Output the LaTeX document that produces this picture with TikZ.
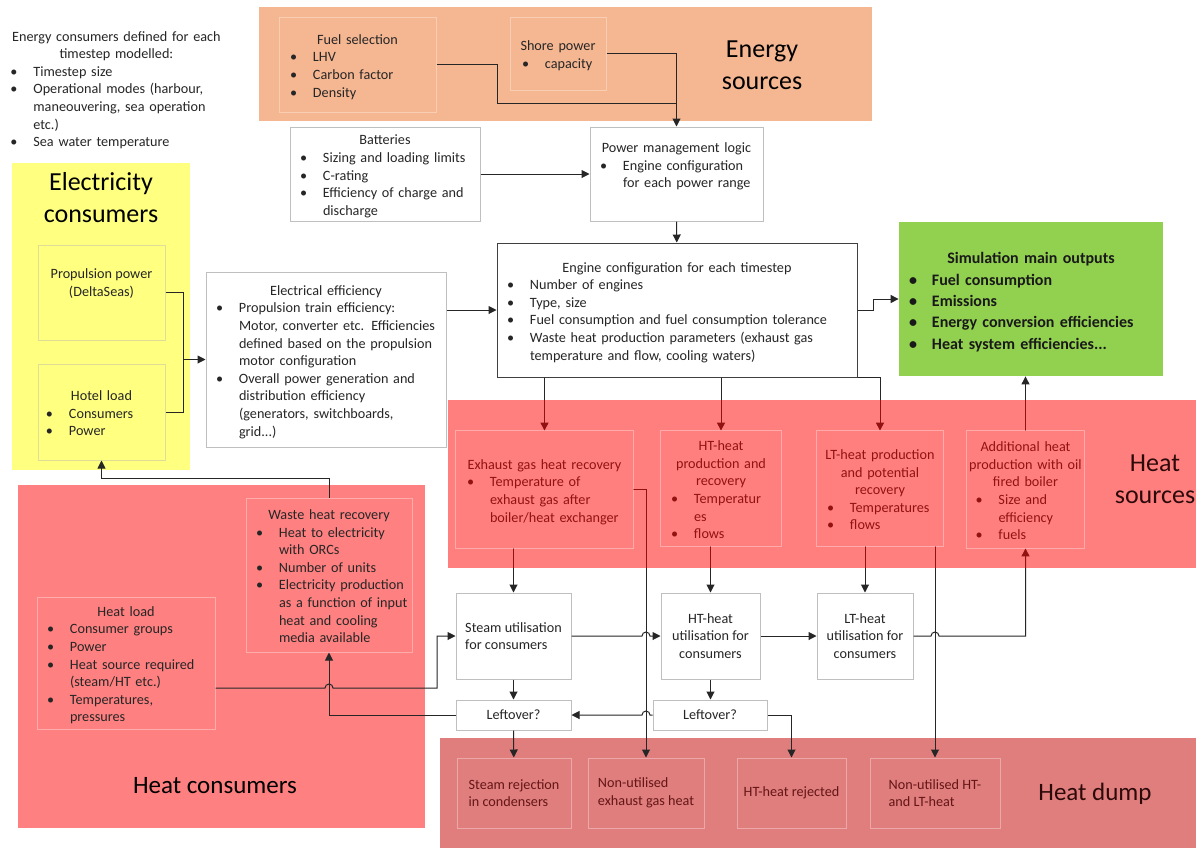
\documentclass[tikz,border=0pt]{standalone}
\usepackage{fontspec}
\setmainfont{Carlito}
\usepackage{xcolor}
\usepackage{tikz}
\usetikzlibrary{arrows.meta,positioning,calc,backgrounds}

\definecolor{orband}{RGB}{245,182,146}
\definecolor{orline}{RGB}{250,206,178}
\definecolor{yeband}{RGB}{255,255,128}
\definecolor{yeline}{RGB}{222,222,150}
\definecolor{grband}{RGB}{146,208,80}
\definecolor{rdband}{RGB}{255,128,128}
\definecolor{rdline}{RGB}{255,172,172}
\definecolor{dmband}{RGB}{224,125,125}
\definecolor{dmline}{RGB}{236,168,168}
\definecolor{dmtext}{RGB}{100,22,22}
\definecolor{boxline}{RGB}{191,191,191}
\definecolor{txt}{RGB}{38,38,38}
\definecolor{ttldark}{RGB}{45,10,10}

\setlength{\parindent}{0pt}
\setlength{\parskip}{0pt}
\newcommand{\fs}{\fontsize{7.1}{8.8}\selectfont\lineskip=0pt\lineskiplimit=-3pt\relax}
\newcommand{\bigfs}{\fontsize{13}{16}\selectfont}
\newcommand{\outfs}{\fontsize{8}{10.7}\selectfont\bfseries\lineskip=0pt\lineskiplimit=-3pt\relax}
% bullet item, lines split by \\
\newcommand{\bl}[1]{\par\noindent\makebox[11.5pt][l]{\textbullet}\begin{tabular}[t]{@{}l@{}}#1\end{tabular}\par}
% centred heading, lines split by \\
\newcommand{\hd}[1]{\par\noindent\makebox[\hsize]{\begin{tabular}[t]{@{}c@{}}#1\end{tabular}}\par}

\begin{document}
\begin{tikzpicture}[
  x=0.5pt, y=-0.5pt,
  every node/.style={text=txt},
  box/.style={draw=boxline, fill=white, line width=0.5pt, inner sep=0pt, font=\fs},
  sub/.style={draw=#1, line width=0.5pt, inner sep=0pt, font=\fs},
  hbox/.style={inner sep=0pt, font=\fs},
  sz/.style 2 args={minimum width=#1*0.5pt, minimum height=#2*0.5pt},
  tw/.style={text width=#1, align=left},
  ttl/.style={font=\bigfs, align=center, text=black},
  line/.style={draw=black!85, line width=0.5pt},
  arr/.style={line, -{Triangle[length=4pt,width=4pt]}}
]
  \useasboundingbox (0,0) rectangle (1196,848);

  % coloured areas
  \begin{scope}[on background layer]
    \fill[white] (0,0) rectangle (1196,848);
    \fill[orband] (259,7) rectangle (872,121);
    \fill[yeband] (12,163) rectangle (190,470);
    \fill[rdband] (18,485) rectangle (425,828);
    \fill[dmband] (440,738) rectangle (1196,848);
  \end{scope}

  \node[font=\fs, tw=106pt, inner sep=0pt, anchor=north west] (intro) at (10,23)
    {\hd{Energy consumers defined for each\\timestep modelled:}\bl{Timestep size}\bl{Operational modes (harbour,\\maneouvering, sea operation\\etc.)}\bl{Sea water temperature}};

  % energy sources
  \node[sub=orline, sz={157}{95}, tw=67.5pt] (fuel) at (357.5,64.5)
    {\hd{Fuel selection}\bl{LHV}\bl{Carbon factor}\bl{Density}};
  \node[sub=orline, sz={96}{73}, tw=36pt] (shore) at (558,53.5)
    {\hd{Shore power}\bl{capacity}};
  \node[ttl] (esrc) at (762,65) {Energy\\sources};

  \node[box, sz={190}{94}, tw=85pt] (bat) at (385,174)
    {\hd{Batteries}\bl{Sizing and loading limits}\bl{C-rating}\bl{Efficiency of charge and\\discharge}};
  \node[box, sz={173}{94}, tw=76.5pt, text depth=39pt] (pml) at (676.5,174)
    {\hd{Power management logic}\bl{Engine configuration\\for each power range}};
  \node[box, draw=black!75, sz={360}{134}, tw=170pt] (ec) at (677,310)
    {\hd{Engine configuration for each timestep}\bl{Number of engines}\bl{Type, size}\bl{Fuel consumption and fuel consumption tolerance}\bl{Waste heat production parameters (exhaust gas\\temperature and flow, cooling waters)}};
  \node[fill=grband, inner sep=0pt, sz={264}{154}, tw=122pt, font=\outfs, text=black!90] (sim) at (1031,299)
    {\hd{Simulation main outputs}\bl{Fuel consumption}\bl{Emissions}\bl{Energy conversion efficiencies}\bl{Heat system efficiencies...}};

  % electricity consumers
  \node[ttl] (elc) at (101,198) {Electricity\\consumers};
  \node[sub=yeline, sz={127}{95}, align=center, text depth=10pt] (prop) at (101.5,292.5) {Propulsion power\\(DeltaSeas)};
  \node[sub=yeline, sz={127}{96}, tw=55.5pt] (hotel) at (101.5,412)
    {\hd{Hotel load}\bl{Consumers}\bl{Power}};
  \node[box, sz={240}{175}, tw=110pt] (elec) at (326,359.5)
    {\hd{Electrical efficiency}\bl{Propulsion train efficiency:\\Motor, converter etc. Efficiencies\\defined based on the propulsion\\motor configuration}\bl{Overall power generation and\\distribution efficiency\\(generators, switchboards,\\grid...)}};

  % heat consumers
  \node[sub=rdline, sz={166}{154}, tw=73pt] (whr) at (329,575)
    {\hd{Waste heat recovery}\bl{Heat to electricity\\with ORCs}\bl{Number of units}\bl{Electricity production\\as a function of input\\heat and cooling\\media available}};
  \node[sub=rdline, sz={178}{132}, tw=79pt] (hl) at (126,663)
    {\hd{Heat load}\bl{Consumer groups}\bl{Power}\bl{Heat source required\\(steam/HT etc.)}\bl{Temperatures,\\pressures}};
  \node[ttl, font=\fontsize{12.5}{15}\selectfont] (hcons) at (215,786) {Heat consumers};

  % heat sources
  \node[hbox, sz={177}{117}, tw=77.5pt] (eg) at (544.5,489.5)
    {\hd{Exhaust gas heat recovery}\bl{Temperature of\\exhaust gas after\\boiler/heat exchanger}};
  \node[hbox, sz={120}{115}, tw=50pt] (htp) at (721,488.5)
    {\hd{HT-heat\\production and\\recovery}\bl{Temperatur\\es}\bl{flows}};
  \node[hbox, sz={126}{115}, tw=53pt] (ltp) at (880,488.5)
    {\hd{LT-heat production\\and potential\\recovery}\bl{Temperatures}\bl{flows}};
  \node[hbox, sz={117}{117}, tw=50pt] (ahp) at (1025.5,489.5)
    {\hd{Additional heat\\production with oil\\fired boiler}\bl{Size and\\efficiency}\bl{fuels}};

  % utilisation
  \node[box, sz={115}{86}, align=left] (su) at (513.5,636) {Steam utilisation\\for consumers};
  \node[box, sz={115}{30}] (lo1) at (513.5,715) {Leftover?};
  \node[box, sz={99}{86}, align=center] (htu) at (710.5,636) {HT-heat\\utilisation for\\consumers};
  \node[box, sz={114}{30}] (lo2) at (710,715) {Leftover?};
  \node[box, sz={96}{86}, align=center] (ltu) at (865,636) {LT-heat\\utilisation for\\consumers};

  % heat dump
  \node[sub=dmline, text=dmtext, sz={114}{70}, align=left] (sr) at (514,793) {Steam rejection\\in condensers};
  \node[sub=dmline, text=dmtext, sz={116}{70}, align=left] (nue) at (646,793) {Non-utilised\\exhaust gas heat};
  \node[sub=dmline, text=dmtext, sz={109}{70}] (htr) at (791.5,793) {HT-heat rejected};
  \node[sub=dmline, text=dmtext, sz={130}{70}, align=left] (nuh) at (935,793) {Non-utilised HT-\\and LT-heat};
  \node[ttl, text=ttldark, font=\fontsize{12.5}{15}\selectfont] (hdump) at (1095,794) {Heat dump};

  % connectors
  \draw[arr] (fuel.east) -| (497,103) -| (pml.north);
  \draw[line] (shore.east) -| (pml.north |- 0,103);
  \draw[arr] (bat) -- (pml);
  \draw[arr] (pml) -- (ec);
  \draw[line] (prop.east) -- ++(18,0) |- (hotel.east);
  \coordinate (pj) at (elec.west -| 183,0);
  \draw[arr] (pj) -- (elec.west);
  \draw[arr] (elec.east |- ec.west) -- (ec.west);
  \draw[arr] (ec.east) -- ++(16,0) |- (sim.west);
  \draw[arr] (eg.north |- ec.south) -- (eg.north);
  \draw[arr] (htp.north |- ec.south) -- (htp.north);
  \draw[arr] (ec.south east) -| (ltp.north);
  \draw[arr] (ahp.north) -- (ahp.north |- sim.south);
  \draw[arr] (su.north |- eg.south) -- (su.north);
  \draw[arr] (eg.east) -| (nue.north);
  \draw[arr] (htu.north |- htp.south) -- (htu.north);
  \draw[arr] (ltu.north |- ltp.south) -- (ltu.north);
  \draw[arr] (nuh.north |- ltp.south) -- (nuh.north);
  \draw[arr] (su.east) -- (642,636) arc[start angle=180, end angle=0, radius=2pt] -- (htu.west);
  \draw[arr] (htu) -- (ltu);
  \draw[arr] (ltu.east) -- (931,636) arc[start angle=180, end angle=0, radius=2pt] -| (ahp.south);
  \draw[arr] (su) -- (lo1);
  \draw[arr] (lo1) -- (sr);
  \draw[arr] (htu.south) -- (htu.south |- lo2.north);
  \draw[arr] (lo2.west) -- (650,715) arc[start angle=0, end angle=180, radius=2pt] -- (lo1.east);
  \draw[arr] (lo2.east) -| (htr.north);
  \draw[arr] (lo1.west) -| (whr.south);
  \draw[arr] (hl.east |- 0,688) -- (325,688) arc[start angle=180, end angle=0, radius=2pt] -- (437,688) |- (su.west);
  \draw[arr] (whr.north) -- ++(0,-19) -| (hotel.south);

  % heat sources area lies over its lines and texts
  \fill[red, fill opacity=0.5] (448,400) rectangle (1196,568);
  \foreach \n in {eg,htp,ltp,ahp}
    \draw[white, draw opacity=0.35, line width=0.5pt] (\n.south west) rectangle (\n.north east);
  \node[ttl, text=ttldark] (hsrc) at (1155,479) {Heat\\sources};
\end{tikzpicture}
\end{document}
